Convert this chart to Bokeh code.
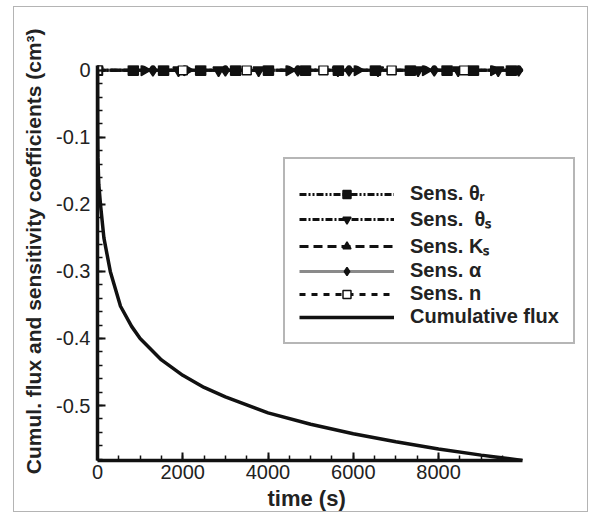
import numpy as np
from bokeh.plotting import figure
from bokeh.models import (Legend, LegendItem, SingleIntervalTicker, Range1d,
                          CustomJSTickFormatter, Title)
from bokeh.embed import file_html
from bokeh.resources import INLINE

# ---- data ----
flux_t = [0, 5, 10, 30, 70, 150, 300, 540, 800, 1000, 1500, 2000, 2500,
          3000, 4000, 5000, 6000, 7000, 8000, 9000, 9970]
flux_v = [0.0, -0.10, -0.13, -0.17, -0.20, -0.25, -0.30, -0.352, -0.382, -0.40,
          -0.432, -0.455, -0.473, -0.487, -0.511, -0.528, -0.542, -0.554,
          -0.565, -0.574, -0.582]

theta_r_t = [0, 840, 1550, 2420, 3240, 4010, 4880, 5650, 6520, 7340, 8200, 8820, 9710]
theta_r_v = [0.0] * len(theta_r_t)
theta_s_t = [0, 1900, 2840, 3780, 5640, 6580, 7520, 8460, 9400]
theta_s_v = [0.0] * len(theta_s_t)
ks_t = [0, 1100, 2100, 4500, 6100, 7700, 9300]
ks_v = [0.0] * len(ks_t)
alpha_t = [0, 1300, 3000, 4700, 5900, 7900, 9880]
alpha_v = [0.0] * len(alpha_t)
n_t = [0, 2000, 3500, 5300, 6900, 8600]
n_v = [0.0] * len(n_t)
t_end = 9970

labels = ["Sens. \u03b8\u1d63", "Sens.  \u03b8\u209b", "Sens. K\u209b",
          "Sens. \u03b1", "Sens. n", "Cumulative flux"]

FONT = "Liberation Sans"
INK = "#111111"

# figure box: (14,7)-(589,513); frame: x 97..589, y 65..463
x_view_end = t_end * (589.0 - 97.0) / 425.0

p = figure(width=575, height=506, output_backend="svg", toolbar_location=None,
           x_range=Range1d(0, x_view_end), y_range=Range1d(-0.582, 0.007),
           min_border_left=83, min_border_right=0, min_border_top=58,
           min_border_bottom=50)
p.outline_line_color = None
p.grid.visible = False
p.styles = {"border": "1px solid #b4b4b4", "margin-left": "13px",
            "margin-top": "6px"}

def sens(ts, vs, dash, marker, color=INK, fill=INK, angle=0.0, width=3, size=10):
    xs = list(ts) + [t_end]
    ys = list(vs) + [vs[-1]]
    ln = p.line(xs, ys, line_color=color, line_width=width, line_dash=dash)
    sc = p.scatter(ts, vs, marker=marker, size=size, line_color=INK,
                   fill_color=fill, angle=angle, line_width=1.5)
    return ln, sc

r_a = sens(alpha_t, alpha_v, "solid", "diamond", color="#8a8a8a", size=12)
r_r = sens(theta_r_t, theta_r_v, "7 2 2 2 2 2", "square", size=10)
r_s = sens(theta_s_t, theta_s_v, "7 2 2 2", "inverted_triangle", size=11)
r_k = sens(ks_t, ks_v, "9 5", "triangle", angle=-np.pi / 2, size=11)
r_n = sens(n_t, n_v, "6 6", "square", fill="white", size=9)

flux = p.line(flux_t, flux_v, line_color=INK, line_width=3.5)

for ax in (p.xaxis[0], p.yaxis[0]):
    ax.axis_line_width = 3.5
    ax.axis_line_color = INK
    ax.major_tick_in = 8
    ax.major_tick_out = 0
    ax.minor_tick_in = 5
    ax.minor_tick_out = 0
    ax.major_tick_line_width = 2
    ax.minor_tick_line_width = 1.5
    ax.major_tick_line_color = INK
    ax.minor_tick_line_color = INK
    ax.major_label_text_font = FONT
    ax.major_label_text_font_size = "20px"
    ax.major_label_text_color = "#222222"
    ax.axis_label_text_font = FONT
    ax.axis_label_text_font_style = "bold"
    ax.axis_label_text_font_size = "21px"
    ax.axis_label_text_color = "#222222"

p.xaxis.bounds = (0, t_end)
p.xaxis.ticker = SingleIntervalTicker(interval=2000, num_minor_ticks=4)
p.yaxis.ticker = SingleIntervalTicker(interval=0.1, num_minor_ticks=5)
p.yaxis.formatter = CustomJSTickFormatter(
    code="return Math.abs(tick) < 1e-9 ? '0' : tick.toFixed(1);")
p.xaxis.formatter = CustomJSTickFormatter(code="return tick.toFixed(0);")
p.yaxis.axis_label = ("\u00a0" * 4 +
                      "Cumul. flux and sensitivity coefficients (cm\u00b3)")
p.xaxis.major_label_standoff = 4
p.yaxis.major_label_standoff = 7
p.yaxis.axis_label_standoff = 8

xt = Title(text="time (s)", align="left", offset=170, standoff=5,
           text_font=FONT, text_font_style="bold", text_font_size="22px",
           text_color="#222222")
p.add_layout(xt, "below")

items = [
    LegendItem(label=labels[0], renderers=list(r_r)),
    LegendItem(label=labels[1], renderers=list(r_s)),
    LegendItem(label=labels[2], renderers=list(r_k)),
    LegendItem(label=labels[3], renderers=list(r_a)),
    LegendItem(label=labels[4], renderers=list(r_n)),
    LegendItem(label=labels[5], renderers=[flux]),
]
leg = Legend(items=items, location=(186, 116), orientation="vertical",
             glyph_width=95, glyph_height=20, label_height=20, spacing=-2,
             label_standoff=16, padding=14,
             label_text_font=FONT, label_text_font_style="bold",
             label_text_font_size="20px", label_text_color="#222222",
             border_line_color="#6e6e6e", border_line_width=2,
             background_fill_color="white", background_fill_alpha=1.0,
             title=" ", title_text_font_size="8px", title_standoff=0)
p.add_layout(leg, "center")

open("out.html", "w").write(file_html(p, INLINE))
